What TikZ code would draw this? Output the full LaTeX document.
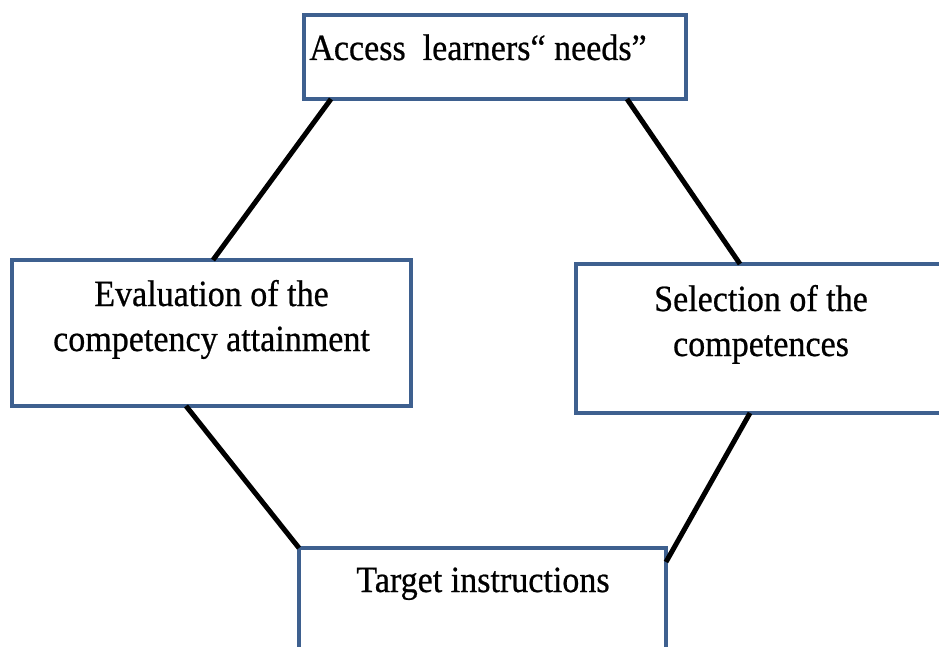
\documentclass[tikz,border=0pt]{standalone}
\usepackage{fontspec}
\setmainfont{Liberation Serif}[FakeStretch=0.92, FakeBold=0.6]
\usetikzlibrary{calc}
\definecolor{boxblue}{RGB}{62,96,143}
\tikzset{
  box/.style={draw=boxblue, line width=4pt, rectangle, inner sep=0pt, outer sep=0pt, fill=white},
  label/.style={font=\fontsize{37}{45}\selectfont, align=center, inner sep=0pt, anchor=base},
  link/.style={line width=5pt, black}
}
\begin{document}
\begin{tikzpicture}[x=1pt,y=-1pt]
\clip (0,0) rectangle (939,647);
\fill[white] (0,0) rectangle (939,647);
\node[box, minimum width=382pt, minimum height=84pt] (top) at (495,57) {};
\node[box, minimum width=399pt, minimum height=146pt] (left) at (211.5,333) {};
\node[box, minimum width=369pt, minimum height=149pt] (right) at (760.5,338.5) {};
\node[box, minimum width=367pt, minimum height=132pt] (bottom) at (482.5,614) {};
\node[label] (ttop) at (478,60) {Access\ \ learners“ needs”};
\node[label] (tleft) at (211.5,351) {Evaluation of the\\competency attainment};
\node[label] (tright) at (761,356) {Selection of the\\competences};
\node[label] (tbottom) at (483,592) {Target instructions};
\draw[link] ($(top.south west)+(27pt,0)$) coordinate (c1) -- ($(left.north west)+(201pt,0)$) coordinate (c2);
\draw[link] ($(top.south west)+(323pt,0)$) coordinate (c3) -- ($(right.north west)+(164pt,0)$) coordinate (c4);
\draw[link] ($(left.south west)+(174pt,0)$) coordinate (c5) -- (bottom.north west);
\draw[link] ($(right.south west)+(174pt,0)$) coordinate (c7) -- ($(bottom.north east)+(0,-14pt)$) coordinate (c8);
\end{tikzpicture}
\end{document}
